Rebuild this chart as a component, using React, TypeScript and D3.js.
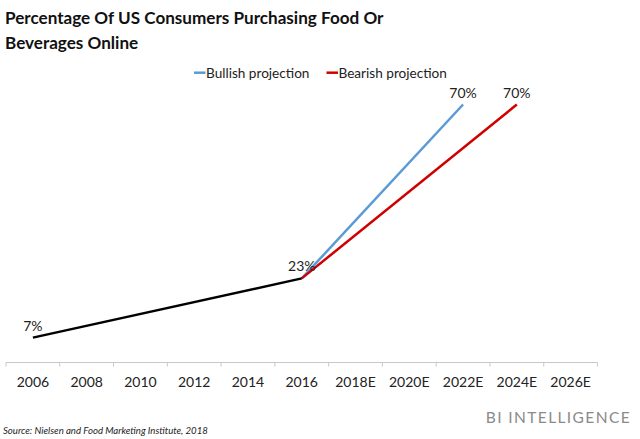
import React from "react";
import * as d3 from "d3";

const categories = ["2006", "2008", "2010", "2012", "2014", "2016", "2018E", "2020E", "2022E", "2024E", "2026E"];
const historical = [
  { cat: "2006", value: 7 },
  { cat: "2016", value: 23 },
];
const bullish = [
  { cat: "2016", value: 23 },
  { cat: "2022E", value: 70 },
];
const bearish = [
  { cat: "2016", value: 23 },
  { cat: "2024E", value: 70 },
];
const pointLabels = [
  { cat: "2006", value: 7, text: "7%" },
  { cat: "2016", value: 23, text: "23%" },
  { cat: "2022E", value: 70, text: "70%" },
  { cat: "2024E", value: 70, text: "70%" },
];
const legendItems = [
  { name: "Bullish projection", color: "#5B9BD5" },
  { name: "Bearish projection", color: "#D00000" },
];

const W = 640;
const H = 439;
const FONT = "Lato, 'Open Sans', 'Noto Sans', sans-serif";

export default function App() {
  const x = d3.scaleBand().domain(categories).range([6, 597.5]).paddingInner(0).paddingOuter(0);
  const y = d3.scaleLinear().domain([0, 70]).range([363.5, 104.5]);
  const cx = (c: string) => (x(c) ?? 0) + x.bandwidth() / 2;
  const line = d3
    .line<{ cat: string; value: number }>()
    .x((d) => cx(d.cat))
    .y((d) => y(d.value));
  const axisY = 362.5;
  const ticks = [...categories.map((c) => x(c) ?? 0), 597.5];

  return (
    <svg width={W} height={H} style={{ display: "block", position: "absolute", left: 0, top: 0, background: "#fff" }} fontFamily={FONT}>
      <text x={5} y={24} fontSize={17.1} fontWeight="bold" fill="#111">Percentage Of US Consumers Purchasing Food Or</text>
      <text x={5} y={49} fontSize={17.1} fontWeight="bold" fill="#111">Beverages Online</text>

      {legendItems.map((l, i) => {
        const lx = i === 0 ? 194 : 326.5;
        return (
          <g key={l.name}>
            <line x1={lx} x2={lx + 11.5} y1={72.7} y2={72.7} stroke={l.color} strokeWidth={2.5} />
            <text x={lx + 12} y={77.5} fontSize={13.6} fill="#222">{l.name}</text>
          </g>
        );
      })}

      <line x1={6} x2={597.5} y1={axisY} y2={axisY} stroke="#c8c8c8" strokeWidth={1} />
      {ticks.map((t, i) => (
        <line key={i} x1={t} x2={t} y1={axisY} y2={axisY + 4} stroke="#c8c8c8" strokeWidth={1} />
      ))}
      {categories.map((c) => (
        <text key={c} x={cx(c)} y={386.5} textAnchor="middle" fontSize={14} fill="#222">{c}</text>
      ))}

      <path d={line(bullish) ?? ""} fill="none" stroke="#5B9BD5" strokeWidth={2.5} />
      <path d={line(bearish) ?? ""} fill="none" stroke="#D00000" strokeWidth={2.5} />
      <path d={line(historical) ?? ""} fill="none" stroke="#000" strokeWidth={2.5} />

      {pointLabels.map((p, i) => (
        <text key={i} x={cx(p.cat)} y={y(p.value) - 7} textAnchor="middle" fontSize={14} fill="#222">{p.text}</text>
      ))}

      <text x={3} y={434} fontSize={9.6} fontStyle="italic" fill="#222">Source: Nielsen and Food Marketing Institute, 2018</text>
      <text x={631} y={423} textAnchor="end" fontSize={15.5} letterSpacing={1.4} fill="#8a8a8a">BI INTELLIGENCE</text>
    </svg>
  );
}
